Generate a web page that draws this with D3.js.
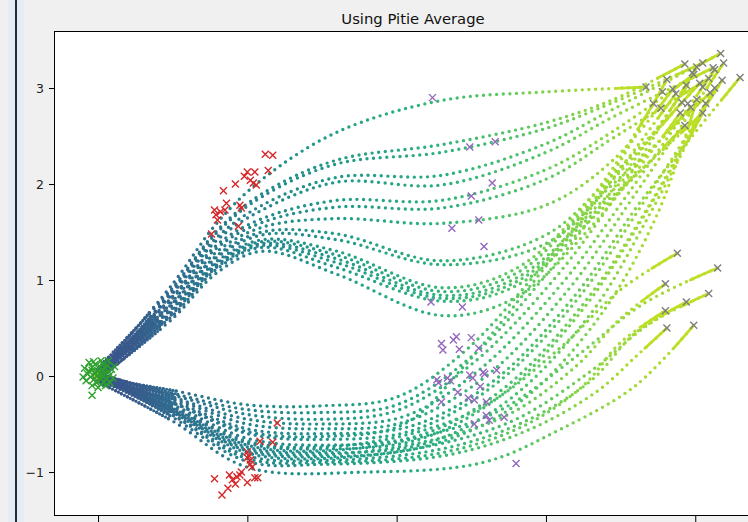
<!DOCTYPE html>
<html>
<head>
<meta charset="utf-8">
<script src="https://cdn.jsdelivr.net/npm/d3@7"></script>
<style>
  html, body { margin: 0; padding: 0; background: #f0f0f0; }
  svg { display: block; }
</style>
</head>
<body>
<svg id="chart" width="748" height="522"></svg>
<script>
// ---- data -------------------------------------------------------------
const chartTitle = "Using Pitie Average";
const xTickValues = [0, 1, 2, 3, 4];
const yTickValues = [-1, 0, 1, 2, 3];

// samples at t = 0
const greenPts = [
  [-0.06,0.05],[-0.04,0.09],[-0.02,0.12],[0.01,0.1],[0.03,0.13],[0.05,0.08],[0.07,0.05],[0.08,0.01],
  [0.06,-0.03],[0.04,-0.06],[0.02,-0.09],[-0.01,-0.07],[-0.03,-0.04],[-0.05,-0.01],[-0.07,0.02],[-0.02,0.03],
  [0.0,0.05],[0.02,0.02],[0.04,0.03],[0.01,-0.02],[-0.01,0.0],[0.03,-0.01],[-0.04,0.06],[0.06,0.11],
  [0.09,0.07],[0.1,-0.02],[-0.08,-0.05],[-0.09,0.08],[0.0,-0.12],[-0.04,-0.1],[0.05,-0.1],[0.08,-0.07],
  [-0.04,-0.2],[0.02,0.16],[-0.06,0.14],[0.11,0.1],[-0.1,-0.01],[0.03,0.07],[-0.03,0.15],[0.07,0.16]
];
// samples at t = 1/3
const redPts = [
  [1.12,2.31],[1.17,2.30],[1.00,2.125],[1.05,2.125],[1.14,2.14],[0.92,2.0],[0.84,1.93],[1.04,2.01],
  [1.06,1.99],[1.02,2.04],[0.78,1.73],[0.82,1.71],[0.86,1.80],[0.85,1.73],[0.95,1.78],[0.96,1.75],
  [0.80,1.625],[0.94,1.56],[0.76,1.48],[0.79,1.68],[0.98,2.08],
  [1.20,-0.49],[1.085,-0.68],[1.17,-0.69],[1.0,-0.79],[1.01,-0.83],[1.02,-0.875],[1.02,-0.92],
  [1.03,-0.95],[1.0,-0.85],[0.78,-1.07],[0.83,-1.24],[0.87,-1.17],[0.88,-1.03],[0.90,-1.08],[0.93,-1.05],
  [0.95,-1.03],[1.0,-1.11],[1.05,-1.06],[1.07,-1.06],[0.92,-1.125],[0.96,-1.0]
];
// samples at t = 2/3
const purplePts = [
  [2.24,2.90],[2.49,2.385],[2.66,2.44],[2.64,2.01],[2.50,1.875],[2.55,1.625],[2.37,1.54],[2.585,1.35],
  [2.23,0.77],[2.44,0.72],
  [2.30,0.34],[2.31,0.27],[2.38,0.375],[2.40,0.41],[2.50,0.40],[2.42,0.28],[2.55,0.29],[2.27,-0.04],
  [2.28,-0.07],[2.34,-0.02],[2.36,-0.05],[2.49,0.01],[2.51,-0.02],[2.58,0.04],[2.59,0.02],[2.67,0.06],
  [2.56,-0.11],[2.41,-0.17],[2.30,-0.27],[2.48,-0.23],[2.52,-0.25],[2.60,-0.27],[2.60,-0.41],[2.62,-0.46],
  [2.52,-0.5],[2.72,-0.43],[2.80,-0.91]
];
// samples at t = 1
const grayPts = [
  [4.17,3.36],[3.93,3.25],[4.01,3.22],[4.05,3.26],[4.19,3.26],[4.12,3.21],[4.13,3.19],[4.30,3.11],
  [3.67,3.01],[3.81,3.09],[3.98,3.16],[3.99,3.14],[4.09,3.10],[4.18,3.08],[3.78,2.96],[3.85,2.99],
  [3.94,3.03],[4.03,3.05],[4.05,3.01],[4.10,2.95],[3.72,2.84],[3.77,2.79],[3.91,2.85],[3.95,2.84],
  [3.97,2.80],[4.07,2.84],[3.90,2.74],[4.05,2.74],[3.93,2.61],[4.01,2.88],[3.87,2.94],[4.13,3.0],
  [3.88,1.28],[4.15,1.125],[3.80,0.96],[4.09,0.86],[3.94,0.77],[3.80,0.68],[3.81,0.5],[3.99,0.53]
];

// averaged trajectories, upper branch
const upperTracks = [
  [[0.0,0.03],[0.5,0.96],[0.8,1.6],[1.1,2.05],[1.6,2.54],[2.3,2.87],[3.0,2.96],[3.67,3.01]],
  [[-0.02,0.05],[0.5,0.92],[0.8,1.52],[1.1,1.9],[1.6,2.25],[2.3,2.41],[3.0,2.64],[3.45,2.88],[3.93,3.25]],
  [[0.02,-0.02],[0.5,0.9],[0.8,1.5],[1.1,1.87],[1.6,2.21],[2.3,2.33],[3.0,2.58],[3.45,2.85],[4.05,3.26]],
  [[0.0,0.0],[0.5,0.88],[0.8,1.45],[1.1,1.78],[1.6,2.07],[2.3,2.09],[3.0,2.42],[3.45,2.78],[4.17,3.36]],
  [[0.03,0.06],[0.5,0.86],[0.8,1.42],[1.1,1.73],[1.6,2.02],[2.3,1.99],[3.0,2.33],[3.45,2.7],[4.12,3.21]],
  [[-0.03,0.0],[0.5,0.83],[0.8,1.37],[1.1,1.64],[1.6,1.83],[2.3,1.83],[3.0,2.15],[3.45,2.55],[3.99,3.14]],
  [[0.01,0.02],[0.5,0.81],[0.8,1.34],[1.1,1.6],[1.6,1.76],[2.3,1.75],[3.0,2.05],[3.45,2.48],[4.09,3.10]],
  [[0.0,-0.04],[0.5,0.78],[0.8,1.3],[1.1,1.55],[1.6,1.64],[2.3,1.59],[3.0,1.78],[3.45,2.25],[3.85,2.99]],
  [[-0.01,0.03],[0.5,0.76],[0.8,1.26],[1.1,1.5],[1.6,1.48],[2.3,1.2],[3.0,1.47],[3.45,2.1],[4.03,3.05]],
  [[0.02,0.0],[0.5,0.74],[0.8,1.24],[1.1,1.47],[1.6,1.42],[2.3,1.16],[3.0,1.38],[3.45,2.0],[4.10,2.95]],
  [[0.0,0.02],[0.5,0.71],[0.8,1.2],[1.1,1.42],[1.6,1.3],[2.3,0.92],[2.8,1.12],[3.3,1.85],[3.72,2.84]],
  [[-0.02,-0.02],[0.5,0.69],[0.8,1.18],[1.1,1.4],[1.6,1.26],[2.3,0.88],[2.8,1.07],[3.3,1.8],[3.91,2.85]],
  [[0.01,0.05],[0.5,0.67],[0.8,1.16],[1.1,1.38],[1.6,1.22],[2.3,0.84],[2.8,1.02],[3.35,1.78],[3.97,2.80]],
  [[0.03,-0.01],[0.5,0.65],[0.8,1.14],[1.1,1.36],[1.6,1.18],[2.3,0.81],[2.8,0.98],[3.35,1.74],[4.05,2.74]],
  [[-0.01,0.01],[0.5,0.63],[0.8,1.12],[1.1,1.34],[1.6,1.13],[2.3,0.78],[2.8,0.94],[3.35,1.7],[3.93,2.61]],
  [[0.0,-0.03],[0.5,0.6],[0.8,1.08],[1.1,1.3],[1.6,1.06],[2.3,0.63],[2.8,0.82],[3.3,1.55],[3.90,2.74]]
];

// averaged trajectories, lower branch
const lowerTracks = [
  [[0.0,-0.02],[0.5,-0.15],[1.0,-0.3],[1.5,-0.31],[2.0,-0.22],[2.45,0.25],[2.95,1.1],[3.4,2.0],[3.81,3.09]],
  [[0.02,0.01],[0.5,-0.18],[1.0,-0.35],[1.5,-0.38],[2.0,-0.3],[2.5,0.2],[3.0,1.05],[3.45,1.95],[3.95,3.03]],
  [[-0.02,-0.03],[0.5,-0.2],[1.0,-0.4],[1.5,-0.45],[2.0,-0.36],[2.5,0.12],[3.05,1.0],[3.5,1.95],[4.01,3.22]],
  [[0.01,0.03],[0.5,-0.22],[1.0,-0.45],[1.5,-0.5],[2.05,-0.42],[2.55,0.06],[3.1,0.95],[3.55,1.9],[4.13,3.19]],
  [[0.0,-0.05],[0.5,-0.24],[1.0,-0.5],[1.5,-0.55],[2.05,-0.48],[2.6,0.0],[3.15,0.9],[3.6,1.9],[4.19,3.26]],
  [[-0.03,0.02],[0.5,-0.26],[1.0,-0.55],[1.5,-0.6],[2.1,-0.52],[2.65,-0.05],[3.2,0.85],[3.65,1.85],[4.30,3.11]],
  [[0.02,-0.01],[0.5,-0.28],[1.0,-0.6],[1.5,-0.66],[2.1,-0.57],[2.65,-0.1],[3.2,0.78],[3.65,1.8],[4.18,3.08]],
  [[0.0,0.0],[0.5,-0.3],[1.0,-0.65],[1.5,-0.72],[2.15,-0.62],[2.7,-0.15],[3.25,0.75],[3.7,1.8],[4.07,2.84]],
  [[-0.01,-0.04],[0.5,-0.33],[1.0,-0.7],[1.5,-0.76],[2.15,-0.66],[2.7,-0.2],[3.25,0.7],[3.65,1.65],[4.05,2.74]],
  [[0.01,0.02],[0.5,-0.35],[1.0,-0.74],[1.5,-0.8],[2.2,-0.7],[2.75,-0.25],[3.3,0.65],[3.7,1.7],[4.13,3.0]],
  [[0.03,-0.02],[0.5,-0.37],[1.0,-0.78],[1.5,-0.84],[2.2,-0.73],[2.8,-0.3],[3.35,0.6],[3.75,1.7],[4.01,2.88]],
  [[-0.02,0.0],[0.5,-0.28],[1.0,-0.58],[1.5,-0.63],[2.05,-0.5],[2.45,0.1],[2.9,0.95],[3.35,1.85],[3.87,2.94]],
  [[0.0,0.01],[0.5,-0.32],[1.0,-0.68],[1.5,-0.74],[2.1,-0.6],[2.6,-0.3],[3.1,0.3],[3.5,0.9],[3.88,1.28]],
  [[0.02,-0.03],[0.5,-0.34],[1.0,-0.72],[1.5,-0.78],[2.15,-0.64],[2.7,-0.35],[3.2,0.2],[3.65,0.75],[4.15,1.125]],
  [[-0.02,0.03],[0.5,-0.36],[1.0,-0.76],[1.5,-0.82],[2.2,-0.68],[2.75,-0.4],[3.2,0.1],[3.5,0.6],[3.80,0.96]],
  [[0.01,-0.01],[0.5,-0.38],[1.0,-0.8],[1.5,-0.86],[2.25,-0.72],[2.8,-0.45],[3.3,0.05],[3.7,0.55],[4.09,0.86]],
  [[0.0,0.02],[0.5,-0.4],[1.0,-0.83],[1.5,-0.88],[2.3,-0.76],[2.85,-0.48],[3.3,-0.05],[3.6,0.45],[3.94,0.77]],
  [[-0.01,-0.02],[0.5,-0.41],[1.0,-0.86],[1.5,-0.9],[2.3,-0.8],[2.85,-0.52],[3.25,-0.1],[3.5,0.35],[3.80,0.68]],
  [[0.02,0.0],[0.5,-0.43],[1.0,-0.89],[1.5,-0.92],[2.35,-0.82],[2.9,-0.55],[3.35,-0.15],[3.6,0.2],[3.81,0.5]],
  [[0.0,-0.06],[0.5,-0.47],[1.0,-0.95],[1.8,-1.0],[2.58,-0.9],[3.09,-0.56],[3.6,-0.1],[3.99,0.53]]
];

// ---- layout -----------------------------------------------------------
const W = 748, H = 522;
const plotBox = { left: 54, top: 31, right: 772, bottom: 516 };

const svg = d3.select("#chart");
const defs = svg.append("defs");

// window frame strip on the left
svg.append("rect").attr("x", 8).attr("y", 0).attr("width", 16).attr("height", H).attr("fill", "#e4ecf6");
svg.append("rect").attr("x", 15).attr("y", 0).attr("width", 2).attr("height", H).attr("fill", "#2a2a2a");

const x = d3.scaleLinear().domain([-0.295, 4.514]).range([plotBox.left, plotBox.right]);
const y = d3.scaleLinear().domain([-1.458, 3.594]).range([plotBox.bottom, plotBox.top]);

defs.append("clipPath").attr("id", "plot-clip")
  .append("rect")
  .attr("x", plotBox.left).attr("y", plotBox.top)
  .attr("width", plotBox.right - plotBox.left).attr("height", plotBox.bottom - plotBox.top);

svg.append("rect")
  .attr("x", plotBox.left).attr("y", plotBox.top)
  .attr("width", plotBox.right - plotBox.left).attr("height", plotBox.bottom - plotBox.top)
  .attr("fill", "#ffffff");

const plot = svg.append("g").attr("clip-path", "url(#plot-clip)");

// colour along each trajectory (fraction of its horizontal run -> viridis)
const colourStops = [[0, 0.25], [0.06, 0.28], [0.125, 0.35], [0.25, 0.45], [0.375, 0.53],
                     [0.57, 0.64], [0.75, 0.76], [0.875, 0.85], [1, 0.9]];
const endColour = d3.interpolateViridis(0.9);

const line = d3.line()
  .x(d => x(d[0]))
  .y(d => y(d[1]))
  .curve(d3.curveCatmullRom.alpha(0.5));

const tracks = upperTracks.concat(lowerTracks);
const trackLayer = plot.append("g");

tracks.forEach((tr, i) => {
  const gid = "track-grad-" + i;
  const grad = defs.append("linearGradient")
    .attr("id", gid)
    .attr("gradientUnits", "userSpaceOnUse")
    .attr("x1", x(tr[0][0])).attr("y1", 0)
    .attr("x2", x(tr[tr.length - 1][0])).attr("y2", 0);
  colourStops.forEach(s => grad.append("stop")
    .attr("offset", s[0]).attr("stop-color", d3.interpolateViridis(s[1])));

  const dPath = line(tr);
  const dotted = trackLayer.append("path")
    .attr("d", dPath)
    .attr("fill", "none")
    .attr("stroke", `url(#${gid})`)
    .attr("stroke-width", 3.4)
    .attr("stroke-linecap", "round")
    .attr("stroke-dasharray", "0 6.6");

  const L = dotted.node().getTotalLength();
  // denser samples near the start of each trajectory
  const headLen = 80;
  const head = d3.range(Math.floor(headLen / 3.3)).map(() => "0 3.3").join(" ");
  trackLayer.append("path")
    .attr("d", dPath)
    .attr("fill", "none")
    .attr("stroke", `url(#${gid})`)
    .attr("stroke-width", 3.2)
    .attr("stroke-linecap", "round")
    .attr("stroke-dasharray", head + " 0 " + (L + 10));
  // samples pile up at the end of each trajectory
  const tailLen = 30;
  trackLayer.append("path")
    .attr("d", dPath)
    .attr("fill", "none")
    .attr("stroke", endColour)
    .attr("stroke-width", 2.8)
    .attr("stroke-linecap", "round")
    .attr("stroke-dasharray", `0 ${Math.max(0, L - tailLen)} ${tailLen + 2} 0`);
});

// sample markers
function drawCrosses(points, colour) {
  const s = 3.5;
  plot.append("g")
    .selectAll("path")
    .data(points)
    .join("path")
    .attr("d", d => {
      const cx = x(d[0]), cy = y(d[1]);
      return `M${cx - s},${cy - s}L${cx + s},${cy + s}M${cx - s},${cy + s}L${cx + s},${cy - s}`;
    })
    .attr("stroke", colour)
    .attr("stroke-width", 1.4)
    .attr("fill", "none");
}
drawCrosses(greenPts, "#2ca02c");
drawCrosses(redPts, "#d62728");
drawCrosses(purplePts, "#9467bd");
drawCrosses(grayPts, "#7f7f7f");

// axes (x tick labels fall below the visible area, so only the marks are kept)
const yAxis = d3.axisLeft(y).tickValues(yTickValues).tickSize(5).tickPadding(5).tickFormat(d3.format("d"));
const xAxis = d3.axisBottom(x).tickValues(xTickValues).tickSize(6).tickFormat(() => "");

const gy = svg.append("g").attr("transform", `translate(${plotBox.left},0)`).call(yAxis);
const gx = svg.append("g").attr("transform", `translate(0,${plotBox.bottom})`).call(xAxis);
[gx, gy].forEach(g => {
  g.select(".domain").remove();
  g.selectAll(".tick line").attr("stroke", "#000").attr("stroke-width", 1);
  g.selectAll(".tick text").attr("fill", "#222").attr("font-family", "DejaVu Sans, sans-serif").attr("font-size", 12.5);
});
gx.selectAll(".tick text").remove();

// frame
svg.append("rect")
  .attr("x", plotBox.left + 0.5).attr("y", plotBox.top + 0.5)
  .attr("width", plotBox.right - plotBox.left).attr("height", plotBox.bottom - plotBox.top - 1)
  .attr("fill", "none").attr("stroke", "#000").attr("stroke-width", 1);

// title
svg.append("text")
  .attr("x", (plotBox.left + plotBox.right) / 2)
  .attr("y", 24)
  .attr("text-anchor", "middle")
  .attr("font-family", "DejaVu Sans, sans-serif")
  .attr("font-size", 14.8)
  .attr("fill", "#111")
  .text(chartTitle);
</script>
</body>
</html>
